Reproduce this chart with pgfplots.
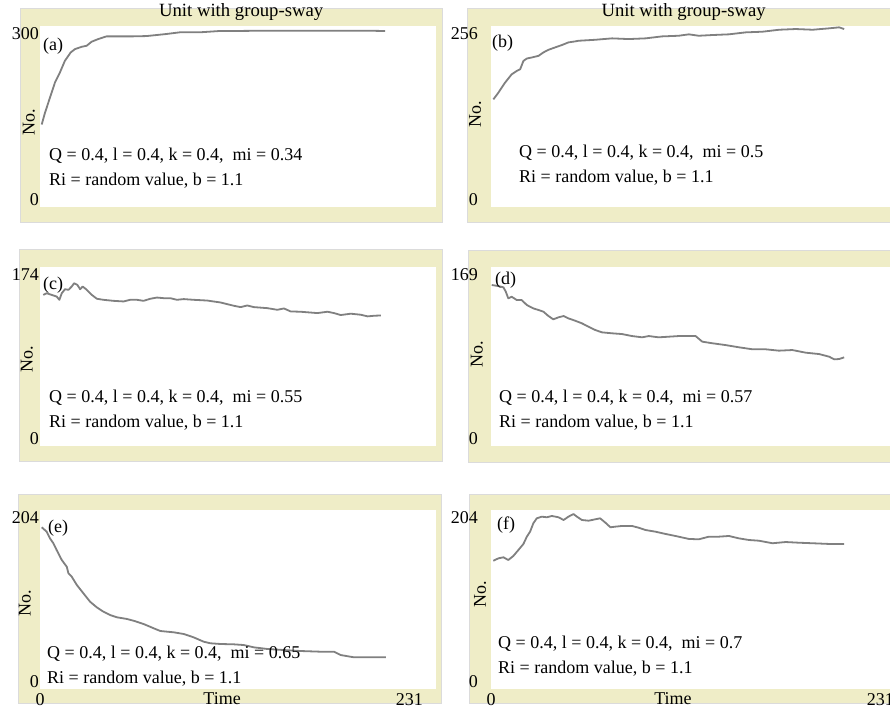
\documentclass[border=0pt]{standalone}
\usepackage{fontspec}
\setmainfont{Liberation Serif}
\usepackage{pgfplots}
\pgfplotsset{compat=1.18}
\definecolor{frameyel}{RGB}{239,237,199}
\definecolor{linegray}{RGB}{128,128,128}
\pgfplotsset{
  panel/.style={
    anchor=south west, scale only axis, width=396pt,
    xmin=0, xmax=231, ymin=0,
    axis line style={draw=none}, tick style={draw=none},
    axis background/.style={fill=white},
    /pgf/number format/assume math mode=true,
    xtick=\empty, ytick={0},
    yticklabel style={anchor=south east, inner sep=1pt},
    extra y tick style={yticklabel style={anchor=north east}},
    ylabel={No.},
    title style={anchor=south, inner sep=0pt, yshift=-1pt, font=\fontsize{18.7}{22}\selectfont},
    clip=false,
  },
  rightpanel/.style={
    width=416pt,
    yticklabel style={xshift=-12pt},
  },
  bottompanel/.style={
    xtick={0}, extra x ticks={231}, xlabel={Time},
    xticklabel style={anchor=north, inner sep=0pt, yshift=-4pt},
    extra x tick style={xticklabel style={anchor=north east, xshift=-13pt}},
    xlabel style={at={(axis description cs:0.46,0)}, anchor=north, inner sep=0pt, yshift=-3pt},
  },
  curve/.style={linegray, line width=1.8pt, line join=round, no marks},
}
\begin{document}
\begin{tikzpicture}[x=1pt, y=1pt, font=\fontsize{18}{22}\selectfont]
\path[use as bounding box] (0,0) rectangle (890,709);
\clip (0,0) rectangle (890,709);
\fill[white] (0,0) rectangle (890,709);
% yellow frames
\begin{scope}[draw=gray!28, line width=0.5pt]
\filldraw[fill=frameyel] (20,487) rectangle (442,701);
\filldraw[fill=frameyel] (467,487) rectangle (915,701);
\filldraw[fill=frameyel] (19,248) rectangle (442,460);
\filldraw[fill=frameyel] (468,247) rectangle (915,459);
\filldraw[fill=frameyel] (18,6) rectangle (441,215);
\filldraw[fill=frameyel] (469,6) rectangle (915,215);
\end{scope}

% (a)
\begin{axis}[panel, at={(40pt,502pt)}, height=181pt, ymax=300,
  extra y ticks={300}, title={Unit with group-sway},
  title style={at={(axis description cs:0.508,1)}},
  ylabel style={at={(axis description cs:-0.028,0.47)}, anchor=center, inner sep=0pt}]
\addplot[curve] coordinates {
(1.0,136.7)(2.9,156.1)(5.8,181.1)(8.7,206.1)(11.6,222.8)(14.5,242.2)(17.9,256.1)
(20.4,261.7)(24.3,265.5)(27.2,267.2)(30.1,273.9)(33.9,278.3)(38.8,282.8)(46.6,282.8)
(54.1,282.8)(62.1,283.3)(67.9,285.0)(73.7,286.7)(81.5,289.5)(93.1,289.5)(104.8,291.7)
(112.3,291.7)(132.1,292.2)(151.3,292.2)(170.5,292.2)(190.3,292.2)(201.3,291.7)};
\end{axis}

% (b)
\begin{axis}[panel, rightpanel, at={(491pt,502pt)}, height=181pt, ymax=256,
  extra y ticks={256}, extra y tick style={yticklabel style={anchor=north east}},
  title={Unit with group-sway},
  title style={at={(axis description cs:0.463,1)}},
  ylabel style={at={(axis description cs:-0.038,0.514)}, anchor=center, inner sep=0pt}]
\addplot[curve] coordinates {
(1.3,152.2)(4.1,161.7)(7.8,175.9)(11.5,187.7)(14.3,192.4)(16.2,194.8)(18.0,206.6)
(19.9,210.0)(22.7,211.5)(26.4,213.8)(29.1,218.6)(31.9,222.3)(35.6,225.7)(39.3,229.0)
(43.0,232.8)(46.7,234.2)(48.6,235.1)(57.9,236.5)(67.2,238.5)(76.4,237.5)(85.8,238.5)
(95.0,241.3)(104.2,242.2)(109.9,244.2)(115.4,242.2)(122.9,243.2)(132.1,244.2)(141.5,247.0)
(150.7,247.9)(160.0,250.7)(169.2,251.7)(178.6,250.7)(187.8,252.7)(193.3,254.1)(196.1,251.7)};
\end{axis}

% (c)
\begin{axis}[panel, at={(40pt,263pt)}, height=179pt, ymax=174,
  extra y ticks={174},
  ylabel style={at={(axis description cs:-0.033,0.486)}, anchor=center, inner sep=0pt}]
\addplot[curve] coordinates {
(1.9,146.9)(3.9,148.5)(6.8,146.9)(9.7,145.3)(11.3,142.1)(12.7,148.5)(14.6,152.4)
(16.6,151.8)(18.5,155.0)(19.9,158.2)(21.8,156.6)(23.4,152.4)(24.9,155.0)(27.3,151.8)
(30.2,146.9)(33.2,143.1)(37.0,142.1)(42.9,141.1)(48.7,140.5)(52.6,142.1)(56.5,142.1)
(60.4,141.1)(64.3,143.1)(68.2,144.3)(72.1,143.7)(76.0,143.7)(79.9,142.1)(83.8,142.8)
(89.6,142.1)(97.5,141.4)(105.3,139.5)(113.1,136.3)(117.0,135.0)(120.9,136.6)(124.7,135.0)
(132.6,134.0)(138.4,132.4)(142.3,133.7)(146.2,130.8)(152.0,130.5)(161.8,129.2)(167.7,130.5)
(171.5,129.2)(175.4,127.3)(181.3,128.6)(187.1,127.6)(191.1,126.0)(194.9,126.6)(198.8,126.9)};
\end{axis}

% (d)
\begin{axis}[panel, rightpanel, at={(491pt,263pt)}, height=179pt, ymax=169,
  extra y ticks={169}, extra y tick style={yticklabel style={anchor=north east}},
  ylabel style={at={(axis description cs:-0.034,0.514)}, anchor=center, inner sep=0pt}]
\addplot[curve] coordinates {
(0.4,152.0)(4.1,151.0)(6.9,149.8)(8.2,145.7)(9.6,139.4)(11.5,140.9)(14.3,137.8)
(17.0,137.8)(19.9,133.1)(23.5,129.9)(26.4,128.4)(29.1,126.8)(31.9,122.7)(34.6,119.6)
(37.5,121.5)(40.3,122.7)(43.0,120.5)(46.7,118.3)(50.5,115.8)(54.2,112.6)(57.9,109.5)
(61.6,107.3)(67.2,106.4)(72.7,105.7)(78.3,103.8)(83.9,102.6)(87.6,103.8)(93.1,102.6)
(98.7,103.2)(104.2,103.8)(113.6,103.8)(117.3,98.5)(122.9,97.0)(130.2,95.3)(137.6,93.2)
(145.2,91.3)(152.5,91.3)(159.9,90.0)(167.3,90.6)(174.8,88.1)(182.2,86.8)(187.8,84.3)
(190.6,81.8)(193.3,82.1)(196.1,83.7)};
\end{axis}

% (e)
\begin{axis}[panel, bottompanel, at={(40pt,20pt)}, height=179pt, ymax=204,
  extra y ticks={204},
  ylabel style={at={(axis description cs:-0.038,0.48)}, anchor=center, inner sep=0pt}]
\addplot[curve] coordinates {
(1.0,184.3)(3.9,179.3)(5.8,171.7)(7.8,166.1)(9.7,158.4)(12.7,147.0)(15.6,139.4)
(16.6,131.8)(18.5,128.0)(21.5,118.5)(25.3,109.1)(29.2,99.5)(33.1,93.1)(37.0,88.1)
(40.9,84.3)(44.9,81.7)(50.7,79.8)(54.6,77.8)(60.4,74.1)(66.3,69.2)(70.2,66.1)
(78.0,64.6)(83.8,62.7)(89.6,58.9)(95.5,53.9)(99.4,52.1)(105.3,51.3)(113.1,50.9)
(118.9,50.1)(124.7,47.5)(132.6,45.6)(142.3,44.4)(152.0,43.3)(163.8,42.5)(171.5,42.5)
(175.4,38.7)(183.2,36.1)(191.1,36.1)(201.8,36.1)};
\end{axis}

% (f)
\begin{axis}[panel, rightpanel, bottompanel, at={(491pt,20pt)}, height=179pt, ymax=204,
  extra y ticks={204}, extra y tick style={yticklabel style={anchor=north east}},
  xlabel style={at={(axis description cs:0.4375,0)}},
  ylabel style={at={(axis description cs:-0.026,0.53)}, anchor=center, inner sep=0pt}]
\addplot[curve] coordinates {
(1.3,146.2)(4.1,148.9)(6.9,150.1)(9.6,147.0)(12.4,151.6)(15.2,158.4)(18.0,165.3)
(19.9,173.6)(21.7,179.3)(23.5,188.8)(25.4,194.5)(28.2,196.4)(31.0,195.7)(33.8,197.2)
(37.5,195.7)(40.3,192.6)(43.0,196.4)(45.8,199.4)(47.7,196.4)(50.5,192.6)(54.2,191.8)
(57.9,193.4)(60.6,194.5)(63.5,189.6)(66.3,184.3)(69.0,185.0)(72.7,185.8)(78.3,185.8)
(82.0,183.8)(85.8,181.2)(91.3,179.3)(96.9,176.7)(102.4,174.4)(109.9,171.0)(115.4,170.6)
(121.0,173.6)(126.5,173.6)(132.1,174.4)(137.6,171.7)(143.3,169.8)(148.8,169.0)(156.3,166.1)
(163.6,167.5)(171.1,166.7)(178.6,166.1)(187.8,165.3)(196.1,165.3)};
\end{axis}

% panel letters
\begin{scope}[every node/.style={inner sep=0pt, anchor=north west}]
\node at (43,671) {(a)};
\node at (492,674) {(b)};
\node at (43,432) {(c)};
\node at (495,437) {(d)};
\node at (48,189) {(e)};
\node at (497,192) {(f)};
\end{scope}
% parameter text
\begin{scope}[every node/.style={inner sep=0pt, anchor=base west}]
\node at (49,548) {Q = 0.4, l = 0.4, k = 0.4,\ \ mi = 0.34};
\node at (49,523) {Ri = random value, b = 1.1};
\node at (519,551) {Q = 0.4, l = 0.4, k = 0.4,\ \ mi = 0.5};
\node at (519,526) {Ri = random value, b = 1.1};
\node at (49,306) {Q = 0.4, l = 0.4, k = 0.4,\ \ mi = 0.55};
\node at (49,281) {Ri = random value, b = 1.1};
\node at (499,306) {Q = 0.4, l = 0.4, k = 0.4,\ \ mi = 0.57};
\node at (499,281) {Ri = random value, b = 1.1};
\node at (47,51) {Q = 0.4, l = 0.4, k = 0.4,\ \ mi = 0.65};
\node at (47,26) {Ri = random value, b = 1.1};
\node at (498,61) {Q = 0.4, l = 0.4, k = 0.4,\ \ mi = 0.7};
\node at (498,36) {Ri = random value, b = 1.1};
\end{scope}
\end{tikzpicture}
\end{document}
